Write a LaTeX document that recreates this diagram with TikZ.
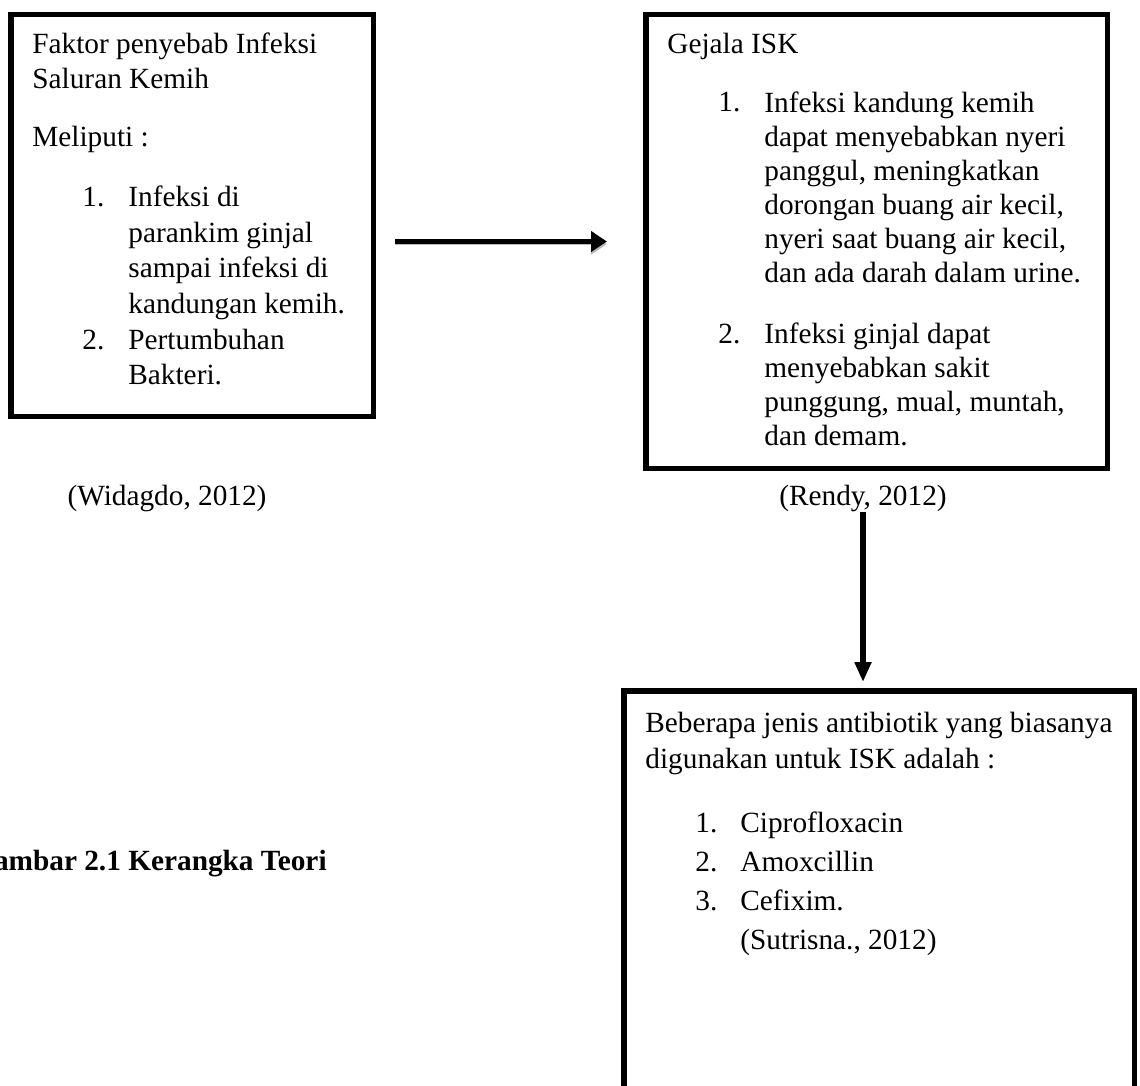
\documentclass[tikz,border=0pt]{standalone}
\usepackage{fontspec}
\setmainfont{Liberation Serif}
\usetikzlibrary{
    arrows.meta,
    positioning
}

\tikzset{
    kotak/.style={draw, line width=2.75pt, inner sep=0pt},
    teks/.style={anchor=base west, inner sep=0pt, align=left,
        font=\fontsize{14.65}{17.85}\selectfont},
    rapat/.style={font=\fontsize{14.65}{17}\selectfont},
    panah/.style={-{Triangle[length=8pt, width=10pt]}, line width=2.5pt},
    panahbawah/.style={-{Triangle[length=10pt, width=8pt]}, line width=3pt}
}

\begin{document}
\begin{tikzpicture}[x=0.5pt, y=-0.5pt]
    \useasboundingbox (0,0) rectangle (1140,1086);
    \clip (0,0) rectangle (1140,1086);

    % Faktor penyebab box (text nodes sit on their last baseline)
    \node[kotak, minimum width=181.25pt, minimum height=200.75pt] (faktor) at (192,215.5) {};
    \node[teks] (faktorjudul) at (32,88.7) {Faktor penyebab Infeksi\\Saluran Kemih};
    \node[teks] (meliputi) at (32,146.5) {Meliputi :};
    \node[teks] (faktornoA) at (82,206.5) {1.};
    \node[teks] (faktorA) at (128,313.6) {Infeksi di\\parankim ginjal\\sampai infeksi di\\kandungan kemih.};
    \node[teks] (faktornoB) at (82,349) {2.};
    \node[teks] (faktorB) at (128,384.7) {Pertumbuhan\\Bakteri.};
    \node[teks, anchor=base] (widagdo) at (167,505) {(Widagdo, 2012)};

    % Gejala ISK box
    \node[kotak, minimum width=230.75pt, minimum height=226.75pt] (gejala) at (876.5,241.5) {};
    \node[teks] (gejalajudul) at (667,54) {Gejala ISK};
    \node[teks] (gejalanoA) at (718,112) {1.};
    \node[teks, rapat] (gejalaA) at (764,282) {Infeksi kandung kemih\\dapat menyebabkan nyeri\\panggul, meningkatkan\\dorongan buang air kecil,\\nyeri saat buang air kecil,\\dan ada darah dalam urine.};
    \node[teks] (gejalanoB) at (718,343) {2.};
    \node[teks, rapat] (gejalaB) at (764,445) {Infeksi ginjal dapat\\menyebabkan sakit\\punggung, mual, muntah,\\dan demam.};
    \node[teks, anchor=base] (rendy) at (863,505) {(Rendy, 2012)};

    % Antibiotik box
    \node[kotak, minimum width=255.25pt, minimum height=213.25pt] (antibiotik) at (879,904) {};
    \node[teks, font=\fontsize{14.65}{18}\selectfont] (antibiotikjudul) at (645,768) {Beberapa jenis antibiotik yang biasanya\\digunakan untuk ISK adalah :};
    \node[teks, font=\fontsize{14.65}{19.5}\selectfont] (antibiotikno) at (695,910) {1.\\2.\\3.};
    \node[teks, font=\fontsize{14.65}{19.5}\selectfont] (antibiotikisi) at (740,949) {Ciprofloxacin\\Amoxcillin\\Cefixim.\\(Sutrisna., 2012)};

    % Caption
    \node[teks, anchor=base east, font=\fontsize{14.65}{17.85}\selectfont\bfseries] (gambar) at (327,870) {Gambar 2.1 Kerangka Teori};

    % Arrows
    \draw[panah, shorten <=9.5pt, shorten >=18pt,
        preaction={draw=gray!55, transform canvas={yshift=-1.3pt}}]
        (faktor.east |- gejala.west) -- (gejala.west);
    \draw[panahbawah, shorten >=3pt] (rendy.south) -- (rendy.south |- antibiotik.north);
\end{tikzpicture}
\end{document}
